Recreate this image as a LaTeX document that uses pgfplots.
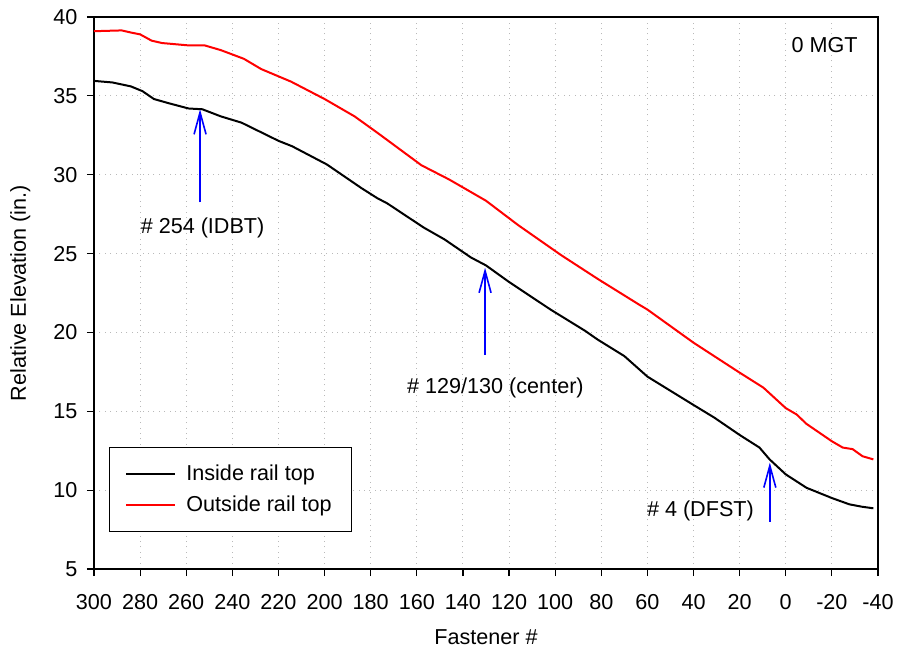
\documentclass[border=0pt]{standalone}
\usepackage{fontspec}
\setmainfont{Liberation Sans}
\usepackage{pgfplots}
\pgfplotsset{compat=1.18}
\usetikzlibrary{arrows.meta}

\begin{document}
\begin{tikzpicture}
\fontsize{10.8pt}{13pt}\selectfont
\begin{axis}[
  at={(0,0)}, anchor=south west,
  scale only axis,
  width=392pt, height=276pt,
  x dir=reverse,
  xmin=-40, xmax=300,
  ymin=5, ymax=40,
  xtick={300,280,...,-40},
  ytick={5,10,...,40},
  tick align=outside,
  xtick pos=bottom, ytick pos=left,
  major tick length=3.5pt,
  tick style={black, line width=0.6pt},
  axis line style={line width=0.6pt},
  grid=major,
  major grid style={gray!55, line width=0.5pt, dash pattern=on 0.5pt off 2.2pt},
  /pgf/number format/assume math mode=true,
  xticklabel style={font=\fontsize{10.8pt}{13pt}\selectfont, yshift=-5.5pt},
  yticklabel style={font=\fontsize{10.8pt}{13pt}\selectfont, xshift=-1pt},
  xlabel={Fastener \#},
  ylabel={Relative Elevation (in.)},
  xlabel style={at={(axis description cs:0.5,-0.123)}, anchor=center, font=\fontsize{10.8pt}{13pt}\selectfont},
  ylabel style={at={(axis description cs:-0.094,0.5)}, anchor=center, font=\fontsize{10.8pt}{13pt}\selectfont},
  legend cell align=left,
  legend style={at={(axis description cs:0.019,0.067)}, anchor=south west,
    draw=black, line width=0.5pt, inner xsep=8pt, inner ysep=6.5pt,
    font=\fontsize{10.8pt}{13pt}\selectfont, row sep=2pt, column sep=3pt},
  legend image code/.code={\draw[#1] (0pt,0pt) -- (24.5pt,0pt);},
]

\addplot[black, line width=1pt] coordinates {
(300,35.95) (292,35.85) (284,35.6) (279,35.3) (274,34.8) (268,34.55)
(259,34.2) (253,34.15) (245,33.7) (236,33.3) (220,32.15) (214,31.8)
(199,30.65) (184,29.15) (177,28.5) (173,28.2) (157,26.65) (148,25.9)
(136.5,24.75) (130,24.25) (120,23.2) (102,21.45) (87,20.1) (81.6,19.55)
(70,18.5) (60,17.2) (40,15.4) (31,14.6) (20,13.5) (11.4,12.7) (7,11.95)
(0,11.0) (-9,10.15) (-20,9.5) (-27.6,9.1) (-33,8.95) (-38,8.85)
};
\addlegendentry{Inside rail top}

\addplot[red, line width=1pt] coordinates {
(300,39.1) (288,39.15) (283.5,39.0) (280,38.9) (275,38.5) (270.5,38.35)
(259,38.2) (252,38.2) (245,37.9) (235,37.35) (227.5,36.7) (214.5,35.9)
(200,34.8) (187,33.7) (177,32.65) (158,30.6) (146,29.7) (130,28.35)
(116,26.8) (97.4,24.9) (81.6,23.4) (64,21.8) (60,21.45) (40,19.35)
(20,17.45) (9.7,16.5) (0,15.2) (-4.7,14.8) (-9,14.2) (-20,13.1)
(-24.7,12.7) (-29,12.6) (-33.3,12.15) (-38,11.95)
};
\addlegendentry{Outside rail top}

\draw[blue, line width=0.8pt, -{Straight Barb[length=11pt, width=6pt]}]
  (axis cs:254,28.25) -- (axis cs:254,34.15);
\draw[blue, line width=0.8pt, -{Straight Barb[length=11pt, width=6pt]}]
  (axis cs:130.4,18.6) -- (axis cs:130.4,24.1);
\draw[blue, line width=0.8pt, -{Straight Barb[length=11pt, width=6pt]}]
  (axis cs:6.9,8.0) -- (axis cs:6.9,11.75);

\node at (axis cs:252.9,26.6) {\# 254 (IDBT)};
\node at (axis cs:125.9,16.5) {\# 129/130 (center)};
\node at (axis cs:37,8.7) {\# 4 (DFST)};
\node at (axis description cs:0.932,0.949) {0 MGT};
\end{axis}
\pgfresetboundingbox
\path[use as bounding box] (-47pt,-40.5pt) rectangle (403.5pt,284.5pt);
\end{tikzpicture}
\end{document}
